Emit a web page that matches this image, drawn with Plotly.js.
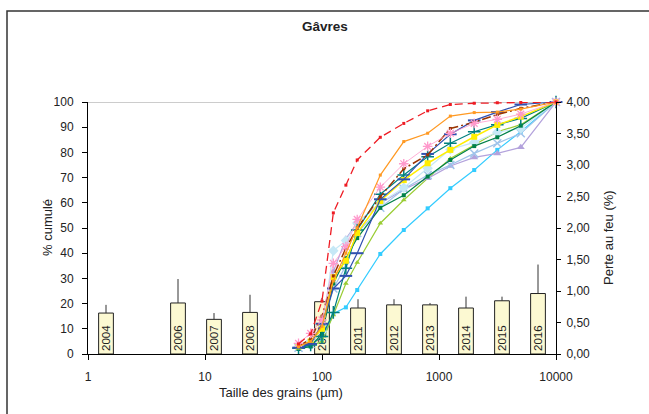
<!DOCTYPE html>
<html>
<head>
<meta charset="utf-8">
<script src="https://cdn.plot.ly/plotly-3.0.1.min.js"></script>
<style>
html,body{margin:0;padding:0;background:#fff;}
#chart{width:649px;height:414px;}
</style>
</head>
<body>
<div id="chart"></div>
<script>
// ---- Data ----
const grainSizes = [63, 80, 100, 125, 160, 200, 315, 500, 800, 1250, 2000, 3150, 5000, 10000];

const curveRed        = [4, 8, 21, 56, 67, 77, 86, 91.5, 96.5, 99, 99.5, 99.7, 99.8, 100];
const curveOrange     = [3, 5, 11, 29, 40, 50, 71, 84.3, 87.6, 94.4, 95.8, 96, 97.2, 100];
const curveBlue       = [2.5, 4, 12, 26, 31, 40, 61.4, 69.3, 79.4, 87.2, 92.7, 96, 99, 100];
const curveBrown      = [3, 6, 15, 31, 42, 50, 62.4, 73.5, 79, 89.5, 92, 95, 97.5, 100];
const curvePink       = [4.2, 8.2, 13.5, 36, 42.6, 53.4, 66.2, 75.5, 82.4, 87.6, 91.5, 93.1, 95.2, 100];
const curveYellow     = [3, 5, 10, 30.5, 37, 48, 60.7, 69, 75.7, 81, 86.2, 90.9, 94.2, 100];
const curveTeal       = [2.3, 3.6, 6.9, 16.5, 34, 49.2, 63.4, 71, 78.3, 83.6, 88.2, 91, 93.5, 100];
const curveDarkGreen  = [2, 3, 8, 28, 38, 46, 58, 63, 70.4, 77, 82.5, 86, 90.6, 100];
const curveLightGreen = [2, 3, 5, 15.5, 28, 36.3, 51.9, 61.1, 69.7, 77.6, 82.9, 88.2, 91, 100];
const curvePaleBlue   = [3, 5, 9, 41, 45, 52, 60, 66, 73.7, 81.2, 84, 88, 89.5, 100];
const curveSteelX     = [2.5, 4, 10, 26, 35, 48, 58, 65.5, 71, 75, 79.6, 83.6, 87.6, 100];
const curvePurple     = [3, 5, 11, 32.7, 45.7, 52, 59.8, 65.3, 69.7, 74.6, 78, 79.6, 82, 100];
const curveCyan       = [2, 3, 5, 16, 18.5, 25.4, 39.7, 49.2, 57.8, 65.8, 73, 81, 88.2, 100];

const barYears   = ['2004','2005','2006','2007','2008','2009','2010','2011','2012','2013','2014','2015','2016'];
const perteAuFeu = [0.65, null, 0.81, 0.55, 0.66, null, 0.83, 0.73, 0.78, 0.78, 0.73, 0.845, 0.96];
const perteErr   = [0.13, null, 0.38, 0.10, 0.28, null, 0.06, 0.14, 0.09, 0.03, 0.18, 0.065, 0.46];

const xTickVals = [1, 10, 100, 1000, 10000];
const xTickText = ['1', '10', '100', '1000', '10000'];

// ---- Traces ----
const FONT = 'Liberation Sans, Arial, sans-serif';
const traces = [];

traces.push({
  type: 'bar', x: barYears, y: perteAuFeu, xaxis: 'x', yaxis: 'y',
  width: 0.41,
  marker: {color: '#FCF9D2', line: {color: '#222', width: 1}},
  error_y: {type: 'data', array: perteErr, arrayminus: perteErr.map(v => 0), symmetric: false,
            color: '#333', thickness: 1, width: 0},
  texttemplate: '%{x}', textposition: 'inside', textangle: -90, insidetextanchor: 'start',
  constraintext: 'none',
  insidetextfont: {family: FONT, size: 11.5, color: '#222'},
  hoverinfo: 'skip', showlegend: false
});

function curve(vals, color, opts) {
  opts = opts || {};
  return Object.assign({
    type: 'scatter', mode: 'lines+markers', x: grainSizes, y: vals,
    xaxis: 'x2', yaxis: 'y2', showlegend: false, cliponaxis: false,
    line: {color: color, width: opts.lw || 1.2, dash: opts.dash || 'solid'},
    marker: Object.assign({color: color, size: 4, symbol: 'square'}, opts.marker || {})
  }, opts.extra || {});
}

traces.push(curve(curveCyan, '#33CCFF', {marker: {size: 4}}));
traces.push(curve(curveLightGreen, '#99CC33', {marker: {symbol: 'triangle-up', size: 5}}));
traces.push(curve(curvePurple, '#B3A2DC', {marker: {symbol: 'triangle-up', size: 7}}));
traces.push(curve(curveSteelX, '#9FC3EA', {marker: {symbol: 'x-thin-open', size: 8, line: {color: '#9FC3EA', width: 1.5}}}));
traces.push(curve(curvePaleBlue, '#C6E8F6', {marker: {symbol: 'diamond', size: 8}}));
traces.push(curve(curveDarkGreen, '#00804A', {marker: {size: 4}}));
traces.push(curve(curveTeal, '#00807F', {marker: {symbol: 'cross-thin-open', size: 9, line: {color: '#00807F', width: 1.5}}}));
traces.push(curve(curveYellow, '#FFEE00', {lw: 1.5, marker: {size: 6}}));
traces.push(curve(curveBlue, '#3050B0', {marker: {symbol: 'line-ew-open', size: 9, line: {color: '#3050B0', width: 2}}}));
traces.push(curve(curveBrown, '#993300', {lw: 1.5, dash: '9px,3px,2px,3px', marker: {size: 3}}));
traces.push(curve(curvePink, '#FF99CC', {lw: 0.8, marker: {symbol: 'asterisk-open', size: 8, line: {color: '#FF8CC4', width: 1.3}}}));
traces.push(curve(curveOrange, '#FF9922', {marker: {size: 3}}));
traces.push(curve(curveRed, '#EE1C24', {lw: 1.3, dash: '8px,5px', marker: {size: 3}}));

// ---- Layout ----
const tickFont = {family: FONT, size: 12, color: '#222'};
const layout = {
  width: 649, height: 414,
  margin: {l: 88, r: 93, t: 102, b: 60, pad: 0},
  paper_bgcolor: '#ffffff', plot_bgcolor: 'rgba(0,0,0,0)',
  separators: ',.',
  font: {family: FONT, size: 12, color: '#222'},
  showlegend: false,
  title: {text: '<b>Gâvres</b>', x: 325/649, xanchor: 'center', xref: 'container',
          y: 1 - 26/414, yanchor: 'middle', yref: 'container',
          font: {family: FONT, size: 13.5, color: '#222'}},
  bargap: 0,
  xaxis: {type: 'category', categoryorder: 'array', categoryarray: barYears,
          range: [-0.5, 12.5], visible: false, fixedrange: true},
  yaxis: {side: 'right', range: [0, 4], dtick: 0.5, tickformat: '.2f',
          showline: true, linecolor: '#000', linewidth: 1, ticks: 'outside', ticklen: 4,
          tickcolor: '#000', showgrid: false, zeroline: false, tickfont: tickFont,
          ticklabelstandoff: 3},
  yaxis3: {side: 'right', overlaying: 'y', anchor: 'x', range: [0, 4], dtick: 0.5,
           ticks: 'inside', ticklen: 4, tickcolor: '#000', showticklabels: false,
           showline: false, showgrid: false, zeroline: false},
  xaxis2: {type: 'log', overlaying: 'x', anchor: 'y2', side: 'bottom', range: [0, 4],
           tickvals: xTickVals, ticktext: xTickText,
           showline: true, linecolor: '#000', linewidth: 1, ticks: 'outside', ticklen: 5,
           tickcolor: '#000', showgrid: false, zeroline: false, tickfont: tickFont,
           ticklabelstandoff: 7},
  yaxis2: {overlaying: 'y', anchor: 'x2', side: 'left', range: [0, 100], dtick: 10,
           showline: true, linecolor: '#000', linewidth: 1, ticks: 'outside', ticklen: 5,
           tickcolor: '#000', showgrid: false, zeroline: false, tickfont: tickFont,
           ticklabelstandoff: 6},
  shapes: [
    {type: 'rect', xref: 'paper', yref: 'paper', x0: (7-88)/468, x1: 1.4,
     y0: -0.4, y1: (354-11)/252, line: {color: '#333', width: 1.5}, fillcolor: 'rgba(0,0,0,0)', layer: 'below'},
    {type: 'line', xref: 'paper', yref: 'y2', x0: 0, x1: 1, y0: 100, y1: 100,
     line: {color: '#9a9a9a', width: 1.2}, layer: 'below'}
  ],
  annotations: [
    {text: '% cumulé', xref: 'paper', yref: 'paper', x: (47-88)/468, y: (354-228)/252,
     textangle: -90, showarrow: false, xanchor: 'center', yanchor: 'middle',
     font: {family: FONT, size: 13, color: '#222'}},
    {text: 'Perte au feu (%)', xref: 'paper', yref: 'paper', x: (608-88)/468, y: (354-238)/252,
     textangle: -90, showarrow: false, xanchor: 'center', yanchor: 'middle',
     font: {family: FONT, size: 13, color: '#222'}},
    {text: 'Taille des grains (µm)', xref: 'paper', yref: 'paper', x: (281-88)/468, y: (354-392)/252,
     showarrow: false, xanchor: 'center', yanchor: 'middle',
     font: {family: FONT, size: 13, color: '#222'}}
  ]
};

Plotly.newPlot('chart', traces, layout, {staticPlot: true, displayModeBar: false});
</script>
</body>
</html>
